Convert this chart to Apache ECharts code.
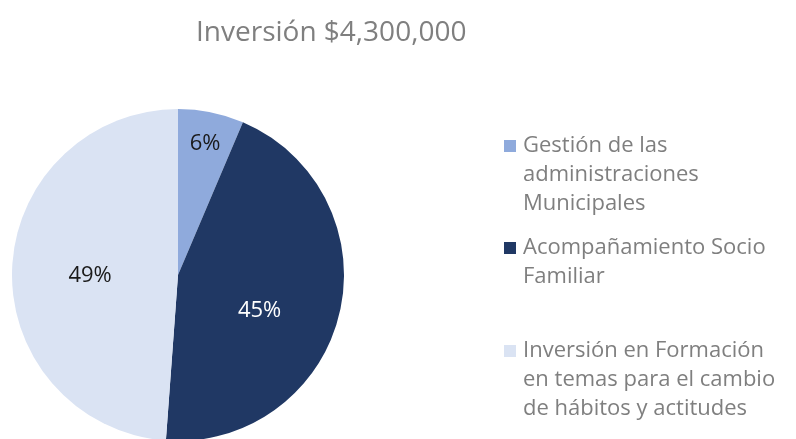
<!DOCTYPE html>
<html>
<head>
<meta charset="utf-8">
<script src="https://cdn.jsdelivr.net/npm/echarts@6/dist/echarts.min.js"></script>
<style>html,body{margin:0;padding:0;background:#fff}#c{width:796px;height:439px}</style>
</head>
<body>
<div id="c"></div>
<script>
const title = 'Inversión $4,300,000';
const categories = [
  'Gestión de las administraciones Municipales',
  'Acompañamiento Socio Familiar',
  'Inversión en Formación en temas para el cambio de hábitos y actitudes'
];
const legendLines = [
  ['Gestión de las', 'administraciones', 'Municipales'],
  ['Acompañamiento Socio', 'Familiar'],
  ['Inversión en Formación', 'en temas para el cambio', 'de hábitos y actitudes']
];
const values = [275000, 1925000, 2100000];
const colors = ['#8faadc', '#203864', '#dae3f3'];
const labelColors = ['#1a1a1a', '#ffffff', '#1a1a1a'];
const labelOffsets = [[10, -47], [-2, 16], [-2, 4]];

const FONT = '"Open Sans", "Noto Sans", sans-serif';
const LH = 29;
const legendIcons = [146, 248, 351];

const legends = categories.map((name, i) => {
  const n = legendLines[i].length;
  const half = (2 * n - 1) * LH / 2;
  return {
    orient: 'vertical',
    left: 504,
    top: legendIcons[i] - half,
    padding: 0,
    itemWidth: 12,
    itemHeight: 12,
    itemGap: 0,
    icon: 'rect',
    selectedMode: false,
    data: [name],
    formatter: () => '\n'.repeat(n - 1) + legendLines[i].join('\n'),
    textStyle: { fontFamily: FONT, fontSize: 22, color: '#7f7f7f', lineHeight: LH, padding: [0, 0, 0, 2] }
  };
});

const chart = echarts.init(document.getElementById('c'), null, { renderer: 'canvas' });
chart.setOption({
  animation: false,
  title: {
    text: title,
    left: 196,
    top: 19,
    padding: 0,
    textStyle: { fontFamily: FONT, fontSize: 28, fontWeight: 'normal', color: '#7f7f7f' }
  },
  legend: legends,
  series: [{
    type: 'pie',
    center: [178, 275],
    radius: 166,
    startAngle: 90,
    clockwise: true,
    silent: true,
    itemStyle: { borderWidth: 0 },
    labelLine: { show: false },
    data: categories.map((name, i) => ({
      name: name,
      value: values[i],
      itemStyle: { color: colors[i] },
      label: {
        show: true,
        position: 'inside',
        offset: labelOffsets[i],
        color: labelColors[i],
        fontFamily: FONT,
        fontSize: 22,
        formatter: (p) => Math.round(p.percent) + '%'
      }
    }))
  }]
});
</script>
</body>
</html>
